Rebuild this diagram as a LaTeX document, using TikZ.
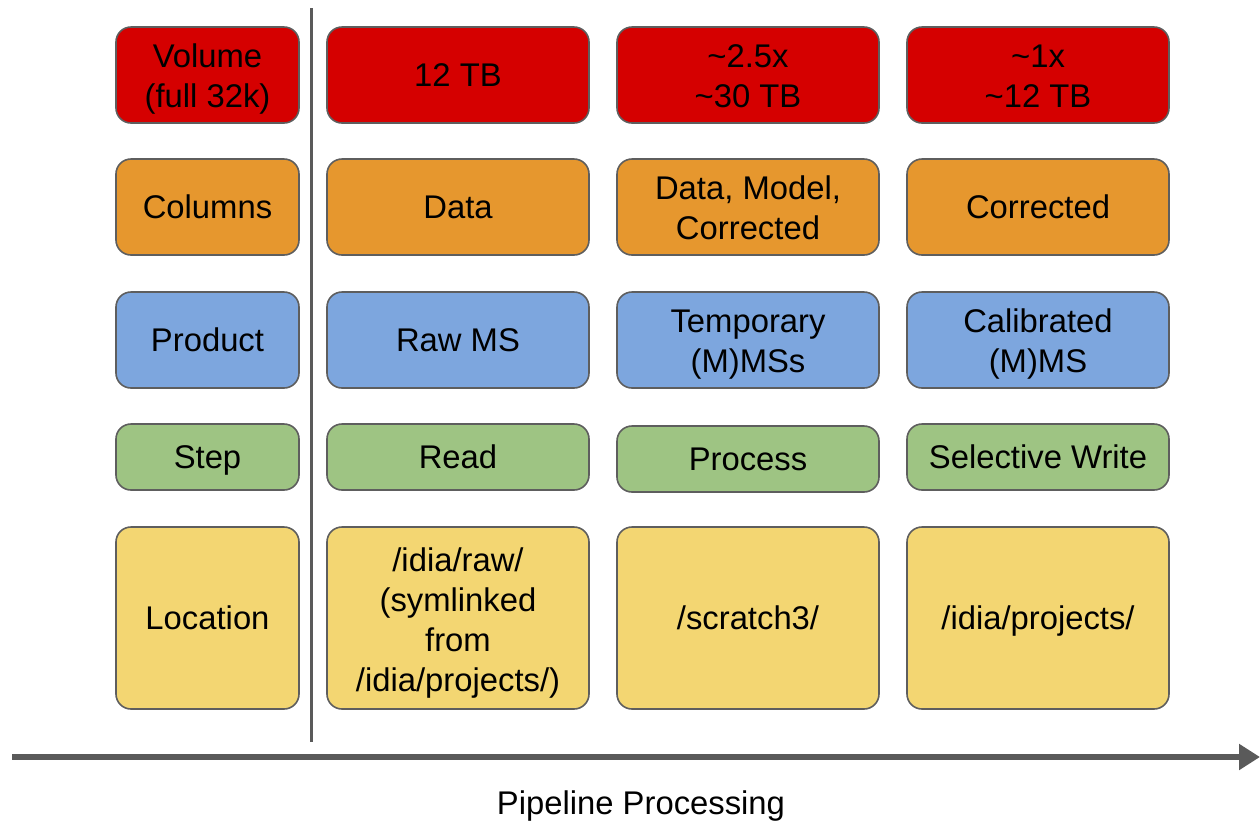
\documentclass[tikz,border=0pt]{standalone}
\usepackage{fontspec}
\setmainfont{Liberation Sans}
\usetikzlibrary{arrows.meta}
\definecolor{volRed}{HTML}{D50000}
\definecolor{colOrange}{HTML}{E6972E}
\definecolor{prodBlue}{HTML}{7DA6DE}
\definecolor{stepGreen}{HTML}{9EC483}
\definecolor{locYellow}{HTML}{F3D672}
\definecolor{edgeGray}{HTML}{5E5E5E}
\definecolor{axisGray}{HTML}{5A5A5A}
\tikzset{
  cell top/.store in=\cellTop, cell top=14.8pt,
  cell/.style={draw=edgeGray, line width=0.8pt, rounded corners=7.5pt,
    align=center, inner sep=0pt,
    font=\fontsize{16.4}{20}\selectfont,
    execute at begin node=\rule{0pt}{\cellTop},
    execute at end node=\rule[-3.5pt]{0pt}{3.5pt}},
  twoLine/.style={cell top=35.8pt},
  fourLine/.style={cell top=77.3pt},
  headCell/.style={cell, minimum width=91.5pt},
  dataCell/.style={cell, minimum width=131pt},
}
\begin{document}
\begin{tikzpicture}[x=0.5pt, y=-0.5pt]
  \useasboundingbox (0,0) rectangle (1260,826);
  \def\rowA{48pt}
  \def\rowD{33pt}
  \def\rowE{91pt}
  % volume row
  \node (volHead) [headCell, twoLine, fill=volRed, minimum height=\rowA] at (207.5,75) {Volume\\(full 32k)};
  \node (volRead) [dataCell, fill=volRed, minimum height=\rowA] at (458,75) {12 TB};
  \node (volProc) [dataCell, twoLine, fill=volRed, minimum height=\rowA] at (748,75) {\textasciitilde2.5x\\\textasciitilde30 TB};
  \node (volWrite) [dataCell, twoLine, fill=volRed, minimum height=\rowA] at (1038,75) {\textasciitilde1x\\\textasciitilde12 TB};
  % columns row
  \node (colHead) [headCell, fill=colOrange, minimum height=\rowA] at (207.5,207) {Columns};
  \node (colRead) [dataCell, fill=colOrange, minimum height=\rowA] at (458,207) {Data};
  \node (colProc) [dataCell, twoLine, fill=colOrange, minimum height=\rowA] at (748,207) {Data, Model,\\Corrected};
  \node (colWrite) [dataCell, fill=colOrange, minimum height=\rowA] at (1038,207) {Corrected};
  % product row
  \node (prodHead) [headCell, fill=prodBlue, minimum height=\rowA] at (207.5,340) {Product};
  \node (prodRead) [dataCell, fill=prodBlue, minimum height=\rowA] at (458,340) {Raw MS};
  \node (prodProc) [dataCell, twoLine, fill=prodBlue, minimum height=\rowA] at (748,340) {Temporary\\(M)MSs};
  \node (prodWrite) [dataCell, twoLine, fill=prodBlue, minimum height=\rowA] at (1038,340) {Calibrated\\(M)MS};
  % step row
  \node (stepHead) [headCell, fill=stepGreen, minimum height=\rowD] at (207.5,457) {Step};
  \node (stepRead) [dataCell, fill=stepGreen, minimum height=\rowD] at (458,457) {Read};
  \node (stepProc) [dataCell, fill=stepGreen, minimum height=\rowD] at (748,459) {Process};
  \node (stepWrite) [dataCell, fill=stepGreen, minimum height=\rowD] at (1038,457) {Selective Write};
  % location row
  \node (locHead) [headCell, fill=locYellow, minimum height=\rowE] at (207.5,618) {Location};
  \node (locRead) [dataCell, fourLine, fill=locYellow, minimum height=\rowE] at (458,618) {/idia/raw/\\(symlinked\\from\\/idia/projects/)};
  \node (locProc) [dataCell, fill=locYellow, minimum height=\rowE] at (748,618) {/scratch3/};
  \node (locWrite) [dataCell, fill=locYellow, minimum height=\rowE] at (1038,618) {/idia/projects/};
  % divider and time axis
  \coordinate (divTop) at (311,8);
  \coordinate (divBot) at (311,742);
  \draw[axisGray, line width=1.5pt] (divTop) -- (divBot);
  \coordinate (axisStart) at (12,757);
  \coordinate (axisEnd) at (1260,757);
  \draw[-{Triangle[length=10.5pt, width=12.5pt]}, axisGray, line width=3pt]
    (axisStart) -- (axisEnd);
  \node (axisLabel) [font=\fontsize{16.4}{20}\selectfont] at (641,806) {Pipeline Processing};
\end{tikzpicture}
\end{document}
